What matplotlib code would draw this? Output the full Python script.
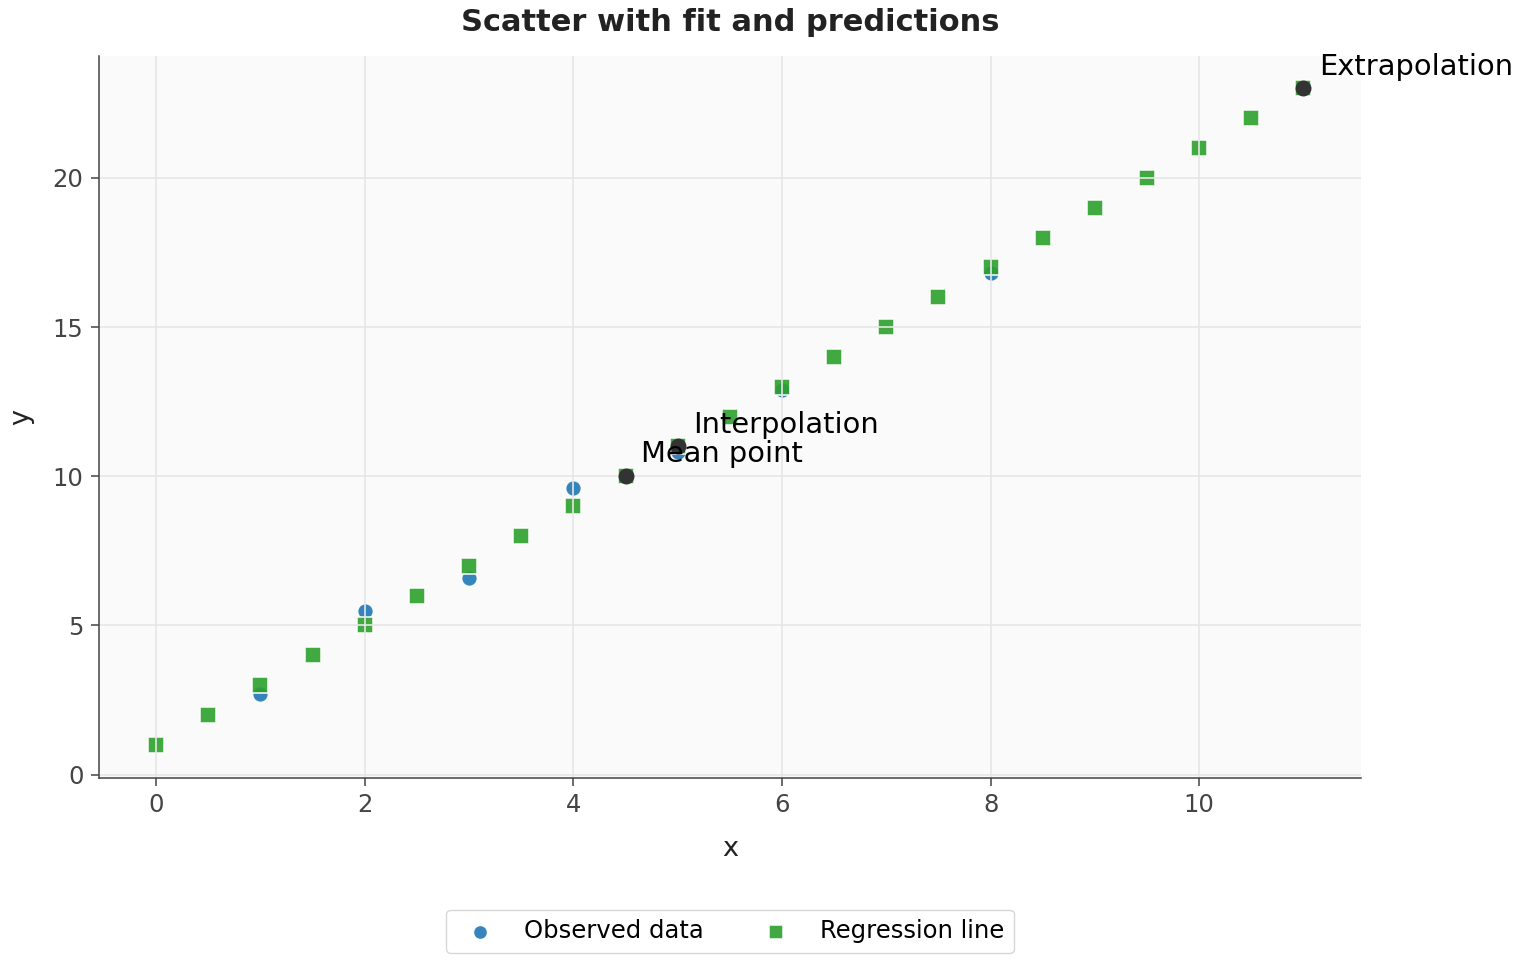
import numpy as np
import matplotlib
matplotlib.use("Agg")
import matplotlib.pyplot as plt

# observed points
obs_x = [1, 2, 3, 4, 5, 6, 8]
obs_y = [2.7, 5.5, 6.6, 9.6, 10.8, 12.9, 16.8]

# fitted line y = 2x + 1 sampled every 0.5
fit_x = [0, 0.5, 1, 1.5, 2, 2.5, 3, 3.5, 4, 4.5, 5, 5.5,
         6, 6.5, 7, 7.5, 8, 8.5, 9, 9.5, 10, 10.5, 11]
fit_y = [1, 2, 3, 4, 5, 6, 7, 8, 9, 10, 11, 12,
         13, 14, 15, 16, 17, 18, 19, 20, 21, 22, 23]

# highlighted points
pts_x = [4.5, 5, 11]
pts_y = [10, 11, 23]
pts_label = ["Mean point", "Interpolation", "Extrapolation"]

fig = plt.figure(figsize=(15.2, 9.6), dpi=100)
ax = fig.add_axes([0.065, 0.19, 0.8303, 0.752])
ax.set_facecolor("#fafafa")

ax.scatter(obs_x, obs_y, s=130, color="#1f77b4", alpha=0.9,
           edgecolors="white", linewidths=1.2, label="Observed data", zorder=1)
ax.scatter(fit_x, fit_y, s=130, marker="s", color="#2ca02c", alpha=0.9,
           edgecolors="white", linewidths=1.2, label="Regression line", zorder=1)
ax.scatter(pts_x, pts_y, s=110, color="#333333", zorder=3)

for px, py, lab in zip(pts_x, pts_y, pts_label):
    ax.annotate(lab, (px, py), xytext=(11, 10), textcoords="offset points",
                fontsize=20.8, color="black", zorder=4)

ax.grid(True, color="#e6e6e6", linewidth=1.2)
ax.set_axisbelow(False)
for s in ["top", "right"]:
    ax.spines[s].set_visible(False)
for s in ["left", "bottom"]:
    ax.spines[s].set_color("#444444")
    ax.spines[s].set_linewidth(1.1)
    ax.spines[s].set_zorder(2.6)
ax.tick_params(colors="#444444", labelsize=17.5, length=6, width=1.1, pad=5)

ax.set_xlabel("x", fontsize=19.5, labelpad=14, color="#222222")
ax.set_ylabel("y", fontsize=19.5, labelpad=13, color="#222222")
ax.set_title("Scatter with fit and predictions", fontsize=22,
             fontweight="bold", color="#222222", pad=18)

leg = ax.legend(loc="upper center", bbox_to_anchor=(0.5, -0.166), ncol=2,
                fontsize=17.5, markerscale=0.9, frameon=True,
                edgecolor="#cccccc")

fig.savefig("out.png", dpi=100)
